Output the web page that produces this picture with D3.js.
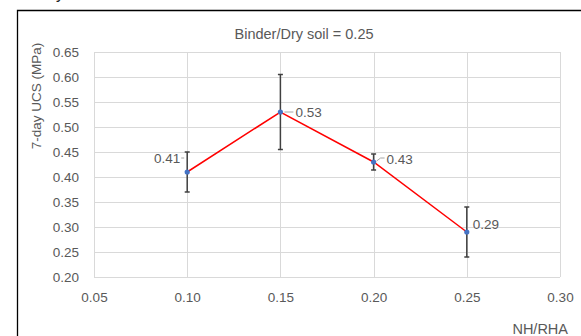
<!DOCTYPE html>
<html lang="en">
<head>
    <meta charset="UTF-8">
    <title>7-day UCS vs NH/RHA</title>
    <script src="https://d3js.org/d3.v7.min.js"></script>
    <style>
        body { margin: 0; background: #fff; }
        text { font-family: "Liberation Sans", "DejaVu Sans", sans-serif; fill: #595959; }
    </style>
</head>
<body>
    <svg width="581" height="336"></svg>
    <script>
        // data
        const ratios = [0.10, 0.15, 0.20, 0.25];
        const ucs = [0.41, 0.53, 0.43, 0.29];
        const errs = [0.04, 0.075, 0.016, 0.05];
        const labels = ["0.41", "0.53", "0.43", "0.29"];
        const xTicks = [0.05, 0.10, 0.15, 0.20, 0.25, 0.30];
        const yTicks = [0.20, 0.25, 0.30, 0.35, 0.40, 0.45, 0.50, 0.55, 0.60, 0.65];

        const width = 581, height = 336;
        const margin = {top: 52, right: 21, bottom: 59, left: 94};

        const svg = d3.select("svg");

        const x = d3.scaleLinear().domain([0.05, 0.30]).range([margin.left, width - margin.right]);
        const y = d3.scaleLinear().domain([0.20, 0.65]).range([height - margin.bottom, margin.top]);

        // outer chart frame (extends past the photo)
        svg.append("path")
            .attr("d", `M17.5,${height + 5}V10.5H${width + 5}`)
            .attr("fill", "none")
            .attr("stroke", "#000")
            .attr("stroke-width", 1.3);

        // clipped glyph from text above
        svg.append("text").attr("x", 56).attr("y", -1).style("font-size", "16px").style("fill", "#222").text("y");

        // grid
        svg.append("g").selectAll("line").data(yTicks).join("line")
            .attr("x1", margin.left).attr("x2", width - margin.right)
            .attr("y1", d => Math.round(y(d)) + 0.5).attr("y2", d => Math.round(y(d)) + 0.5)
            .attr("stroke", "#d9d9d9");
        svg.append("g").selectAll("line").data(xTicks).join("line")
            .attr("y1", margin.top).attr("y2", height - margin.bottom)
            .attr("x1", d => Math.round(x(d)) + 0.5).attr("x2", d => Math.round(x(d)) + 0.5)
            .attr("stroke", "#d9d9d9");

        // axes labels
        const yAxis = d3.axisLeft(y).tickValues(yTicks).tickFormat(d3.format(".2f")).tickSize(0).tickPadding(15);
        const gy = svg.append("g").attr("transform", `translate(${margin.left},0)`).call(yAxis);
        gy.select(".domain").remove();
        gy.selectAll("text").style("font-size", "13.5px").style("fill", "#595959");

        const xAxis = d3.axisBottom(x).tickValues(xTicks).tickFormat(d3.format(".2f")).tickSize(0).tickPadding(15);
        const gx = svg.append("g").attr("transform", `translate(0,${height - margin.bottom})`).call(xAxis);
        gx.select(".domain").remove();
        gx.selectAll("text").style("font-size", "13.5px").style("fill", "#595959");

        // error bars
        const eb = svg.append("g").attr("stroke", "#404040").attr("stroke-width", 1.5);
        ratios.forEach((r, i) => {
            const cx = x(r);
            eb.append("line").attr("x1", cx).attr("x2", cx).attr("y1", y(ucs[i] - errs[i])).attr("y2", y(ucs[i] + errs[i]));
            eb.append("line").attr("x1", cx - 2.5).attr("x2", cx + 2.5).attr("y1", y(ucs[i] - errs[i])).attr("y2", y(ucs[i] - errs[i]));
            eb.append("line").attr("x1", cx - 2.5).attr("x2", cx + 2.5).attr("y1", y(ucs[i] + errs[i])).attr("y2", y(ucs[i] + errs[i]));
        });

        // line
        svg.append("path")
            .datum(ratios.map((r, i) => [r, ucs[i]]))
            .attr("fill", "none")
            .attr("stroke", "#ff0000")
            .attr("stroke-width", 1.5)
            .attr("d", d3.line().x(d => x(d[0])).y(d => y(d[1])));

        svg.append("g").selectAll("circle").data(ratios).join("circle")
            .attr("cx", d => x(d)).attr("cy", (d, i) => y(ucs[i]))
            .attr("r", 2.6).attr("fill", "#4472c4");

        // data labels with small leader lines
        const labelPos = [
            {dx: -7, dy: -14, anchor: "end"},
            {dx: 15, dy: 0, anchor: "start"},
            {dx: 13, dy: -3, anchor: "start"},
            {dx: 6, dy: -8, anchor: "start"}
        ];
        const lg = svg.append("g");
        ratios.forEach((r, i) => {
            const px = x(r), py = y(ucs[i]), p = labelPos[i];
            lg.append("text")
                .attr("x", px + p.dx).attr("y", py + p.dy)
                .attr("dy", "0.35em")
                .attr("text-anchor", p.anchor)
                .style("font-size", "13.5px")
                .text(labels[i]);
        });
        // leader lines
        lg.append("line").attr("x1", x(ratios[0]) - 6).attr("x2", x(ratios[0]) - 3)
            .attr("y1", y(ucs[0]) - 14).attr("y2", y(ucs[0]) - 14).attr("stroke", "#a6a6a6");
        lg.append("line").attr("x1", x(ratios[1]) + 4).attr("x2", x(ratios[1]) + 13)
            .attr("y1", y(ucs[1])).attr("y2", y(ucs[1])).attr("stroke", "#a6a6a6");
        lg.append("path").attr("d", `M${x(ratios[2]) + 3},${y(ucs[2]) - 1}L${x(ratios[2]) + 7},${y(ucs[2]) - 4}H${x(ratios[2]) + 11}`)
            .attr("fill", "none").attr("stroke", "#a6a6a6");

        // titles
        svg.append("text").attr("x", 304).attr("y", 39).attr("text-anchor", "middle")
            .style("font-size", "14.5px").text("Binder/Dry soil = 0.25");
        svg.append("text").attr("transform", "translate(41,96) rotate(-90)").attr("text-anchor", "middle")
            .style("font-size", "13.5px").text("7-day UCS (MPa)");
        svg.append("text").attr("x", 568).attr("y", 334).attr("text-anchor", "end")
            .style("font-size", "14.5px").text("NH/RHA");
    </script>
</body>
</html>
